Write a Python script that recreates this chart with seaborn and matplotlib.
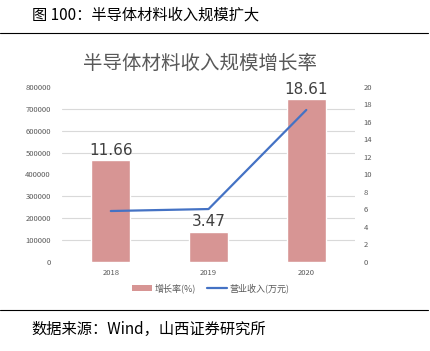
import matplotlib
matplotlib.use("Agg")
import matplotlib.pyplot as plt
import seaborn as sns
import pandas as pd
from matplotlib.ticker import MultipleLocator
from matplotlib.lines import Line2D
from matplotlib.patches import Patch

years = ["2018", "2019", "2020"]
growth = [11.66, 3.47, 18.61]          # 增长率(%)
revenue = [233000, 242000, 695000]     # 营业收入(万元)

sns.set_theme(style="white")
plt.rcParams["font.family"] = ["Noto Sans CJK SC", "DejaVu Sans"]

df = pd.DataFrame({"year": years, "growth": growth, "revenue": revenue})

fig = plt.figure(figsize=(4.30, 3.51), dpi=100)
ax = fig.add_axes([0.144, 0.2536, 0.682, 0.4986])

bar_color = "#D79594"
line_color = "#4472C4"

sns.barplot(data=df, x="year", y="growth", color=bar_color, width=0.4,
            saturation=1, ax=ax, zorder=2)
ax.set_ylim(0, 20)
ax.set_xlim(-0.5, 2.5)
ax.set_xlabel("")
ax.set_ylabel("")
for s in ax.spines.values():
    s.set_visible(False)

for i, v in enumerate(growth):
    ax.text(i, v + 0.25, f"{v:.2f}", ha="center", va="bottom", fontsize=11,
            color="#404040", family=["DejaVu Sans"])

ax2 = ax.twinx()
sns.lineplot(x=[0, 1, 2], y=revenue, color=line_color, linewidth=1.6, ax=ax2)
ax2.set_ylim(0, 800000)
ax2.set_ylabel("")
for s in ax2.spines.values():
    s.set_visible(False)

# axis sides: bars' axis on the right, revenue axis on the left
ax.yaxis.tick_right()
ax2.yaxis.tick_left()
ax.yaxis.set_major_locator(MultipleLocator(2))
ax.yaxis.set_minor_locator(MultipleLocator(2.5))
ax.grid(which="minor", axis="y", color="#D9D9D9", linewidth=0.8)
ax.set_axisbelow(True)
ax.tick_params(axis="y", which="both", length=0, labelsize=5.5,
               labelcolor="#595959", pad=6, labelleft=False, labelright=True)
ax.tick_params(axis="x", length=0, labelsize=5.5, labelcolor="#595959", pad=5)
ax2.yaxis.set_major_locator(MultipleLocator(100000))
ax2.tick_params(axis="y", length=0, labelsize=5.5, labelcolor="#595959", pad=8,
                labelleft=True, labelright=False)

handles = [Patch(facecolor=bar_color, edgecolor="none"),
           Line2D([0], [0], color=line_color, linewidth=1.6)]
fig.legend(handles, ["增长率(%)", "营业收入(万元)"], loc="center",
           bbox_to_anchor=(0.49, 0.178), ncol=2, frameon=False, fontsize=6.5,
           handlelength=2.2, handleheight=0.6, columnspacing=1.2, handletextpad=0.3,
           labelcolor="#595959")

fig.text(0.465, 0.82, "半导体材料收入规模增长率", ha="center", va="center",
         fontsize=14, color="#595959")
fig.text(0.074, 0.957, "图 100：半导体材料收入规模扩大", ha="left", va="center",
         fontsize=11, color="#000000")
fig.text(0.074, 0.06, "数据来源：Wind，山西证券研究所", ha="left", va="center",
         fontsize=11, color="#000000")

fig.add_artist(Line2D([0.0, 0.995], [0.905, 0.905], color="#000000", linewidth=0.8))
fig.add_artist(Line2D([0.0, 0.995], [0.118, 0.118], color="#000000", linewidth=0.8))

fig.savefig("out.png", dpi=100)
